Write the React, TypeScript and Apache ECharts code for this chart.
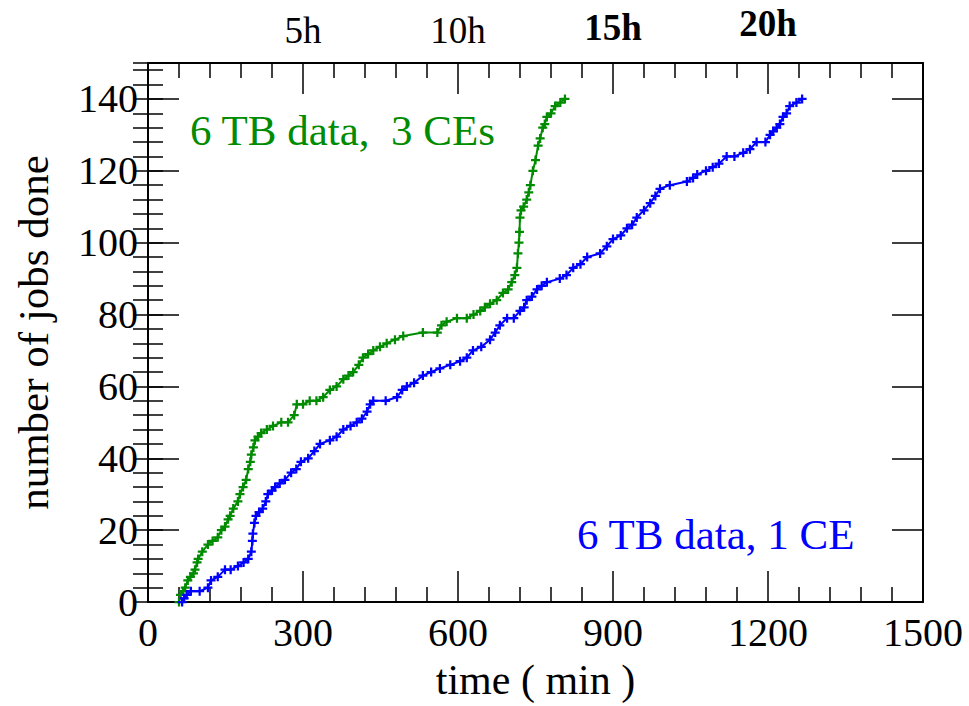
import React, { useEffect, useRef } from 'react';
import * as echarts from 'echarts';

// [time (min), number of jobs done]
const ce3Points: number[][] = [
  [60, 0], [63, 2], [68, 3], [72, 4], [77, 6], [82, 7], [88, 8], [91, 9], [95, 11], [97, 12],
  [105, 14], [116, 16], [125, 17], [135, 18], [142, 20], [149, 21], [155, 23], [159, 24], [165, 26], [174, 28],
  [178, 30], [184, 32], [190, 34], [194, 37], [198, 39], [200, 41], [204, 43], [207, 45], [213, 46], [219, 47],
  [230, 48], [242, 49], [258, 50], [271, 50], [283, 52], [288, 55], [300, 55], [313, 56], [326, 56], [339, 57],
  [352, 59], [365, 60], [378, 62], [388, 63], [397, 64], [408, 66], [416, 68], [426, 69], [436, 70], [449, 71],
  [462, 72], [478, 73], [494, 74], [532, 75], [560, 75], [568, 77], [578, 78], [598, 79], [617, 79], [630, 80],
  [643, 81], [652, 82], [662, 83], [675, 84], [687, 86], [697, 87], [704, 89], [710, 91], [714, 93], [716, 97],
  [718, 100], [719, 103], [720, 107], [722, 109], [727, 110], [733, 112], [737, 114], [740, 116], [745, 120], [750, 123],
  [755, 127], [759, 129], [764, 132], [768, 133], [772, 135], [780, 136], [788, 138], [798, 139], [807, 140],
];

const ce1Points: number[][] = [
  [66, 0], [70, 1], [75, 2], [83, 3], [100, 3], [116, 4], [122, 6], [135, 7], [149, 9], [160, 9],
  [174, 10], [185, 11], [194, 12], [200, 14], [202, 17], [203, 19], [206, 22], [209, 24], [215, 25], [222, 26],
  [228, 28], [232, 30], [240, 31], [246, 32], [255, 33], [265, 34], [277, 36], [287, 37], [296, 39], [310, 40],
  [322, 42], [333, 44], [352, 45], [365, 46], [378, 48], [392, 49], [404, 50], [414, 51], [424, 53], [430, 55],
  [436, 56], [460, 56], [482, 57], [492, 59], [501, 60], [515, 61], [532, 63], [548, 64], [565, 65], [585, 66],
  [604, 67], [617, 68], [629, 70], [645, 71], [662, 73], [672, 75], [681, 77], [695, 79], [708, 79], [720, 81],
  [728, 82], [733, 84], [743, 85], [753, 87], [762, 88], [772, 89], [797, 90], [810, 91], [823, 93], [837, 94],
  [850, 96], [875, 97], [888, 99], [900, 101], [915, 102], [927, 104], [937, 105], [946, 107], [960, 109], [972, 111],
  [982, 113], [991, 115], [1010, 116], [1043, 117], [1055, 118], [1063, 119], [1080, 120], [1093, 121], [1105, 122], [1120, 124],
  [1135, 124], [1152, 125], [1165, 126], [1178, 128], [1195, 128], [1204, 130], [1210, 131], [1217, 132], [1223, 133], [1229, 135],
  [1236, 136], [1242, 138], [1255, 139], [1266, 140],
];

const ce3Label = '6 TB data,  3 CEs';
const ce1Label = '6 TB data, 1 CE';
const hourLabels: Record<number, string> = { 300: '5h', 600: '10h', 900: '15h', 1200: '20h' };
const boldHours = [900, 1200];

const GREEN = '#008b00';
const BLUE = '#0000ff';
const FONT = "'Liberation Serif', 'Times New Roman', serif";
const PLUS = 'path://M3,0H5V3H8V5H5V8H3V5H0V3H3Z';

export default function App() {
  const ref = useRef<HTMLDivElement>(null);

  useEffect(() => {
    if (!ref.current) return;
    const chart = echarts.init(ref.current, undefined, { renderer: 'svg' });

    const baseX = {
      type: 'value' as const,
      min: 0,
      max: 1500,
      interval: 300,
      splitLine: { show: false },
      axisLine: { show: true, onZero: false, lineStyle: { color: '#000', width: 2 } },
      axisTick: { show: true, inside: true, length: 31, lineStyle: { color: '#000', width: 1.5 } },
      minorTick: { show: true, splitNumber: 5, length: 15, lineStyle: { color: '#000', width: 1.5 } },
    };
    const yMajor = (pos: 'left' | 'right', labels: boolean) => ({
      type: 'value' as const,
      position: pos,
      min: 0,
      max: 150,
      interval: 20,
      splitLine: { show: false },
      axisLine: { show: true, onZero: false, lineStyle: { color: '#000', width: 2 } },
      axisTick: { show: true, inside: true, length: 31, lineStyle: { color: '#000', width: 1.5 } },
      axisLabel: labels
        ? { show: true, showMaxLabel: false, fontFamily: FONT, fontSize: 40, color: '#000', margin: 10 }
        : { show: false },
      name: labels ? 'number of jobs done' : '',
      nameLocation: 'middle' as const,
      nameGap: 93,
      nameTextStyle: { fontFamily: FONT, fontSize: 43, color: '#000' },
    });
    const yMinor = (pos: 'left' | 'right') => ({
      type: 'value' as const,
      position: pos,
      min: 0,
      max: 150,
      interval: 4,
      splitLine: { show: false },
      axisLine: { show: false },
      axisTick: { show: true, inside: true, length: 15, lineStyle: { color: '#000', width: 1.5 } },
      axisLabel: { show: false },
    });

    chart.setOption({
      animation: false,
      backgroundColor: '#fff',
      grid: { left: 148, right: 46, top: 63, bottom: 101, containLabel: false },
      xAxis: [
        {
          ...baseX,
          position: 'bottom',
          axisLabel: {
            fontFamily: FONT,
            fontSize: 40,
            color: '#000',
            margin: 10,
            formatter: (v: number) => String(v),
          },
          name: 'time ( min )',
          nameLocation: 'middle',
          nameGap: 57,
          nameTextStyle: { fontFamily: FONT, fontSize: 42, color: '#000' },
        },
        {
          ...baseX,
          position: 'top',
          axisLabel: {
            show: true,
            margin: 14,
            formatter: (v: number) => {
              const t = hourLabels[v];
              if (!t) return '';
              return boldHours.includes(v) ? (v === 1200 ? `{b2|${t}}` : `{b|${t}}`) : `{n|${t}}`;
            },
            rich: {
              n: { fontFamily: FONT, fontSize: 37, color: '#000' },
              b: { fontFamily: FONT, fontSize: 37, fontWeight: 'bold', color: '#000', padding: [0, 0, 3, 0] },
              b2: { fontFamily: FONT, fontSize: 37, fontWeight: 'bold', color: '#000', padding: [0, 0, 7, 0] },
            },
          },
        },
      ],
      yAxis: [yMajor('left', true), yMinor('left'), yMajor('right', false), yMinor('right')],
      series: [
        {
          name: ce3Label,
          type: 'line',
          data: ce3Points,
          xAxisIndex: 0,
          yAxisIndex: 0,
          symbol: PLUS,
          symbolSize: 9,
          showAllSymbol: true,
          lineStyle: { color: GREEN, width: 2 },
          itemStyle: { color: GREEN },
        },
        {
          name: ce1Label,
          type: 'line',
          data: ce1Points,
          xAxisIndex: 0,
          yAxisIndex: 0,
          symbol: PLUS,
          symbolSize: 9,
          showAllSymbol: true,
          lineStyle: { color: BLUE, width: 2 },
          itemStyle: { color: BLUE },
        },
      ],
      graphic: [
        {
          type: 'text',
          x: 190,
          y: 109,
          style: { text: ce3Label, fill: GREEN, font: `43px ${FONT}`, verticalAlign: 'top' },
        },
        {
          type: 'text',
          x: 577,
          y: 513,
          style: { text: ce1Label, fill: BLUE, font: `43px ${FONT}`, verticalAlign: 'top' },
        },
      ],
    });

    return () => chart.dispose();
  }, []);

  return (
    <div
      ref={ref}
      style={{ position: 'fixed', left: 0, top: 0, width: 969, height: 706, background: '#fff' }}
    />
  );
}
